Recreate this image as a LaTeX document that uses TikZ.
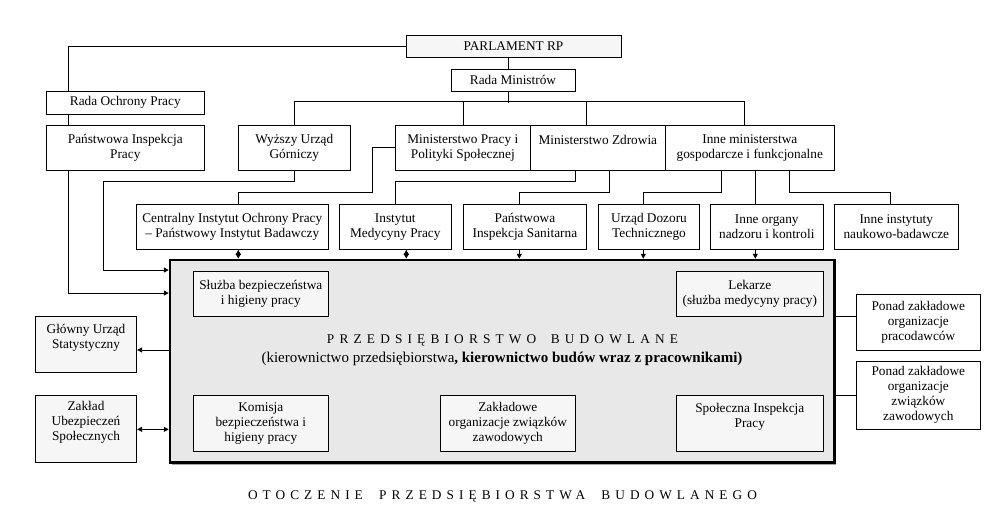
\documentclass[tikz,border=0pt]{standalone}
\usepackage{fontspec}
\setmainfont{Liberation Serif}
\newfontfamily\spacedA[LetterSpace=39]{Liberation Serif}
\newfontfamily\spacedB[LetterSpace=38]{Liberation Serif}
\usetikzlibrary{arrows.meta,shadows}
\definecolor{boxgray}{HTML}{F6F6F6}
\definecolor{entgray}{HTML}{E8E8E8}
\begin{document}
\begin{tikzpicture}[x=1pt,y=-1pt,
  every node/.style={font=\rmfamily\fontsize{13.3}{15}\selectfont},
  box/.style={draw, line width=0.9pt, inner sep=0pt, align=center, fill=white},
  gbox/.style={box, fill=boxgray},
  conn/.style={line width=0.9pt},
  arr/.style={conn, -{Triangle[length=5pt,width=5pt]}},
  darr/.style={conn, {Triangle[length=5pt,width=5pt]}-{Triangle[length=5pt,width=5pt]}}
]
\useasboundingbox (0,0) rectangle (1008,520);

% top
\node[gbox, minimum width=215, minimum height=22] (parl) at (513.5,46) {PARLAMENT RP};
\node[box, minimum width=124, minimum height=22] (rm) at (513,80) {Rada Ministrów};
\node[box, minimum width=158, minimum height=23] (rop) at (125.3,102.8) {Rada Ochrony Pracy};
\node[box, minimum width=158, minimum height=45] (pip) at (125.3,147.8) {Państwowa Inspekcja\\Pracy};

% ministries row
\node[box, minimum width=112, minimum height=45] (wug) at (294.3,147.8) {Wyższy Urząd\\Górniczy};
\node[box, minimum width=135, minimum height=45] (mpips) at (462.8,147.8) {Ministerstwo Pracy i\\Polityki Społecznej};
\node[box, minimum width=135, minimum height=45] (mz) at (597.8,147.8) {Ministerstwo Zdrowia\\\mbox{}};
\node[box, minimum width=169, minimum height=45] (inm) at (749.8,147.8) {Inne ministerstwa\\gospodarcze i funkcjonalne};

% institutes row
\node[box, minimum width=192, minimum height=45] (ciop) at (232.3,226.8) {Centralny Instytut Ochrony Pracy\\– Państwowy Instytut Badawczy};
\node[box, minimum width=112, minimum height=45] (imp) at (395.3,226.8) {Instytut\\Medycyny Pracy};
\node[box, minimum width=123.2, minimum height=45] (pis) at (524.9,226.8) {Państwowa\\Inspekcja Sanitarna};
\node[box, minimum width=101.4, minimum height=45] (udt) at (649,226.8) {Urząd Dozoru\\Technicznego};
\node[box, minimum width=113, minimum height=45] (ino) at (766.8,226.8) {Inne organy\\nadzoru i kontroli};
\node[box, minimum width=124, minimum height=45] (ini) at (896.3,226.8) {Inne instytuty\\naukowo-badawcze};

% enterprise
\node[draw, line width=2.5pt, fill=entgray, minimum width=664.3, minimum height=202.7, inner sep=0pt,
      drop shadow={shadow xshift=1.8pt, shadow yshift=-1.8pt, fill=black!35, opacity=1}]
      (ent) at (502.15,361.35) {};
\node[gbox, minimum width=135, minimum height=45] (sbhp) at (260.8,293.8) {Służba bezpieczeństwa\\i higieny pracy};
\node[gbox, minimum width=147, minimum height=45] (lek) at (749.8,293.8) {Lekarze\\(służba medycyny pracy)};
\node[gbox, minimum width=135, minimum height=56] (kom) at (260.8,423.3) {Komisja\\bezpieczeństwa i\\higieny pracy};
\node[gbox, minimum width=135, minimum height=56] (zoz) at (507.8,423.3) {Zakładowe\\organizacje związków\\zawodowych};
\node[gbox, minimum width=147, minimum height=56] (sip) at (749.8,423.3) {Społeczna Inspekcja\\Pracy\\\mbox{}};
\node[inner sep=0pt] (h1) at (502.5,340) {\spacedA PRZEDSIĘBIORSTWO\hspace{6pt} BUDOWLANE};
\node[inner sep=0pt, font=\rmfamily\fontsize{15}{17}\selectfont] (h2) at (502,358.5) {(kierownictwo przedsiębiorstwa\textbf{, kierownictwo budów wraz z pracownikami)}};

% left / right
\node[gbox, minimum width=101.4, minimum height=56] (gus) at (86,344.3) {Główny Urząd\\Statystyczny\\\mbox{}};
\node[gbox, minimum width=101.4, minimum height=67] (zus) at (86,428.8) {Zakład\\Ubezpieczeń\\Społecznych\\\mbox{}};
\node[box, minimum width=124, minimum height=55.7] (ppr) at (918.3,322.2) {Ponad zakładowe\\organizacje\\pracodawców};
\node[box, minimum width=124, minimum height=68] (pzw) at (918.3,395.3) {Ponad zakładowe\\organizacje\\związków\\zawodowych};

\node[inner sep=0pt] (foot) at (502.5,496) {\spacedB OTOCZENIE\hspace{8pt} PRZEDSIĘBIORSTWA\hspace{8pt} BUDOWLANEGO};

% connectors top
\draw[conn] (parl.west) -| ([xshift=23pt]rop.north west);
\draw[conn] ([xshift=23pt]rop.south west) -- ([xshift=23pt]pip.north west);
\draw[arr] ([xshift=23pt]pip.south west) |- ([yshift=-34.3pt]ent.north west);
\draw[conn] ([xshift=-5pt]parl.south) -- ([xshift=-4.5pt]rm.north);
\draw[conn] ([xshift=-4.5pt]rm.south) -- ++(0,11.3);
\draw[conn] (wug.north) -- ++(0,-23) -| ([xshift=-5.5pt]inm.north);
\draw[conn] ([xshift=0.5pt]mpips.north) -- ++(0,-23);
\draw[conn] ([xshift=-11pt]mz.north) -- ++(0,-23);

% ministries to institutes
\draw[arr] (wug.south) -- ++(0,11) -- ++(-191,0) |- ([yshift=-11.3pt]ent.north west);
\draw[conn] (mpips.west) -- ++(-22,0) -- ++(0,45) -| ([xshift=6pt]ciop.north);
\draw[conn] ([xshift=-22pt]mz.south) -- ++(0,11) -| (imp.north);
\draw[conn] ([xshift=11.5pt]mz.south) -- ++(0,21.5) -| ([xshift=-5.6pt]pis.north);
\draw[conn] ([xshift=-28.8pt]inm.south) -- ++(0,22) -| ([xshift=-5.7pt]udt.north);
\draw[conn] ([xshift=5.5pt]inm.south) -- ([xshift=-11.5pt]ino.north);
\draw[conn] ([xshift=39.5pt]inm.south) -- ++(0,22) -| ([xshift=-6pt]ini.north);

% institutes to enterprise
\draw[darr] ([xshift=6pt]ciop.south) coordinate (t1) -- (t1 |- ent.north);
\draw[darr] ([xshift=11pt]imp.south) coordinate (t2) -- (t2 |- ent.north);
\draw[arr] ([xshift=-5.6pt]pis.south) coordinate (t3) -- (t3 |- ent.north);
\draw[arr] ([xshift=-5.7pt]udt.south) coordinate (t4) -- (t4 |- ent.north);
\draw[arr] ([xshift=-11.5pt]ino.south) coordinate (t5) -- (t5 |- ent.north);

% sides
\draw[arr] ([yshift=11.35pt]ent.west) coordinate (t6) -- (t6 -| gus.east);
\draw[darr] ([yshift=-68pt]ent.west) coordinate (t7) -- (t7 -| zus.east);
\draw[conn] ([yshift=45pt]ent.east) coordinate (t8) -- (t8 -| ppr.west);
\draw[conn] ([yshift=-34pt]ent.east) coordinate (t9) -- (t9 -| pzw.west);
\end{tikzpicture}
\end{document}
